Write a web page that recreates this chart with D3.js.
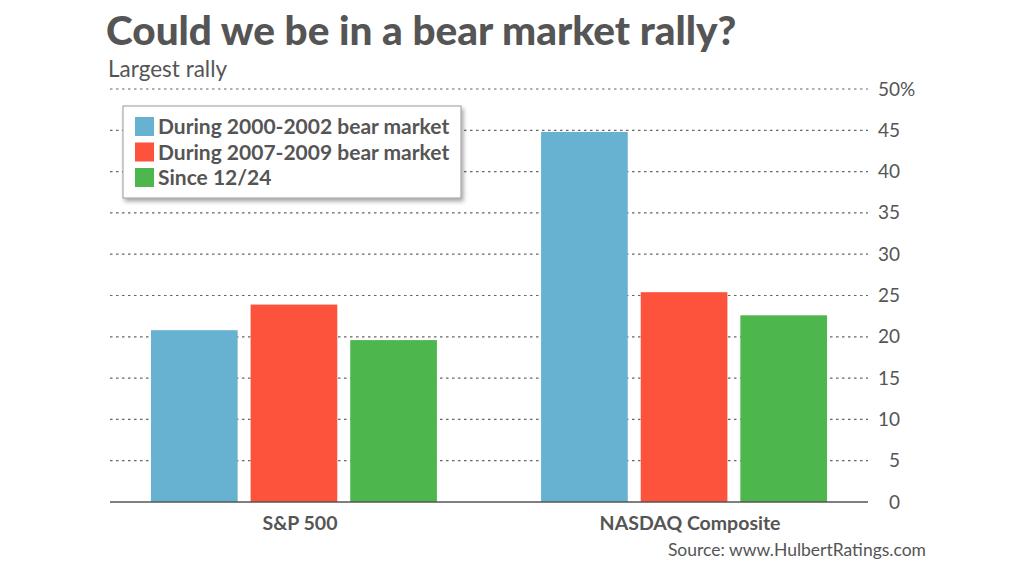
<!DOCTYPE html>
<html>
<head>
<meta charset="utf-8">
<script src="https://cdn.jsdelivr.net/npm/d3@7"></script>
<style>
  body { margin: 0; background: #fff; }
  text { font-family: Lato, "Open Sans", sans-serif; fill: #555; }
</style>
</head>
<body>
<div id="chart"></div>
<script>
const width = 1024, height = 576
const margin = {top: 89, right: 156, bottom: 74, left: 110},
      plotW = width - margin.left - margin.right,
      plotH = height - margin.top - margin.bottom

// Data
const indexes = ["S&P 500", "NASDAQ Composite"]
const seriesNames = ["During 2000-2002 bear market", "During 2007-2009 bear market", "Since 12/24"]
const seriesColors = ["#67b1d1", "#fd523c", "#4db64c"]
const sp500Values = [20.8, 23.9, 19.6]
const nasdaqValues = [44.8, 25.4, 22.6]
const yTicks = [0, 5, 10, 15, 20, 25, 30, 35, 40, 45, 50]

const rows = [sp500Values, nasdaqValues]

let svg = d3.select("#chart")
            .append('svg')
            .attr('width', width)
            .attr('height', height)

// Legend shadow filter
let defs = svg.append('defs')
let filt = defs.append('filter').attr('id', 'shadow')
               .attr('x', '-5%').attr('y', '-5%').attr('width', '115%').attr('height', '125%')
filt.append('feDropShadow')
    .attr('dx', 2).attr('dy', 3).attr('stdDeviation', 2)
    .attr('flood-color', '#000').attr('flood-opacity', 0.35)

// Title
svg.append('text')
   .attr('x', 106).attr('y', 45)
   .style('font-size', '40.5px').style('font-weight', 900)
   .text("Could we be in a bear market rally?")
svg.append('text')
   .attr('x', 108).attr('y', 77)
   .style('font-size', '22.5px')
   .text("Largest rally")

let g = svg.append('g')
           .attr('transform', "translate(" + margin.left + "," + margin.top + ")")

// Scales
let y = d3.scaleLinear().domain([0, 50]).range([plotH, 0])
let x0 = d3.scaleBand().domain(indexes).range([0, plotW])
           .paddingInner(0.267).paddingOuter(0.105)
let x1 = d3.scaleBand().domain(seriesNames).range([0, x0.bandwidth()])
           .paddingInner(0.13).paddingOuter(0)

// Dotted gridlines
g.selectAll('.grid')
 .data(yTicks.filter(d => d > 0))
 .enter()
 .append('line')
 .attr('class', 'grid')
 .attr('x1', 0).attr('x2', plotW)
 .attr('y1', d => y(d)).attr('y2', d => y(d))
 .attr('stroke', '#666')
 .attr('stroke-width', 1.2)
 .attr('stroke-dasharray', '2.5,3.5')

// Right axis labels
let yAxis = g.append('g')
             .attr('transform', "translate(" + (plotW + 32) + ",0)")
             .call(d3.axisRight(y).tickValues(yTicks).tickSize(0).tickPadding(0))
yAxis.select('.domain').remove()
yAxis.selectAll('text')
     .attr('text-anchor', 'end')
     .style('font-size', '19px')
     .style('font-family', 'Lato, sans-serif')
     .attr('fill', '#555')
yAxis.selectAll('.tick')
     .filter(d => d === 50)
     .append('text')
     .attr('x', 0).attr('dy', '0.32em')
     .attr('fill', '#555')
     .style('font-size', '19px')
     .style('font-family', 'Lato, sans-serif')
     .text('%')

// Bars
let groups = g.selectAll('.group')
              .data(indexes)
              .enter()
              .append('g')
              .attr('class', 'group')
              .attr('transform', d => "translate(" + x0(d) + ",0)")

groups.selectAll('rect')
      .data((d, i) => rows[i].map((v, j) => ({name: seriesNames[j], value: v, color: seriesColors[j]})))
      .enter()
      .append('rect')
      .attr('x', d => x1(d.name))
      .attr('y', d => y(d.value))
      .attr('width', x1.bandwidth())
      .attr('height', d => plotH - y(d.value))
      .attr('fill', d => d.color)

// Baseline
g.append('line')
 .attr('x1', 0).attr('x2', plotW)
 .attr('y1', plotH).attr('y2', plotH)
 .attr('stroke', '#555').attr('stroke-width', 1.5)

// Category labels
let xAxis = g.append('g')
             .attr('transform', "translate(0," + plotH + ")")
             .call(d3.axisBottom(x0).tickSize(0).tickPadding(14))
xAxis.select('.domain').remove()
xAxis.selectAll('text')
     .attr('dx', 6)
     .style('font-size', '19.5px')
     .style('font-weight', 700)
     .style('font-family', 'Lato, sans-serif')
     .attr('fill', '#555')

// Legend
let legend = svg.append('g').attr('transform', "translate(123,106)")
legend.append('rect')
      .attr('width', 338).attr('height', 92)
      .attr('fill', '#fff')
      .attr('stroke', '#999')
      .attr('stroke-width', 1)
      .attr('filter', 'url(#shadow)')

let items = legend.selectAll('.item')
                  .data(seriesNames)
                  .enter()
                  .append('g')
                  .attr('class', 'item')
                  .attr('transform', (d, i) => "translate(12," + (11 + i * 25.5) + ")")
items.append('rect')
     .attr('width', 19).attr('height', 19)
     .attr('fill', (d, i) => seriesColors[i])
items.append('text')
     .attr('x', 23).attr('y', 17)
     .style('font-size', '21px').style('font-weight', 700)
     .text(d => d)

// Source
svg.append('text')
   .attr('x', 926).attr('y', 556)
   .attr('text-anchor', 'end')
   .style('font-size', '17.5px')
   .text("Source: www.HulbertRatings.com")
</script>
</body>
</html>
